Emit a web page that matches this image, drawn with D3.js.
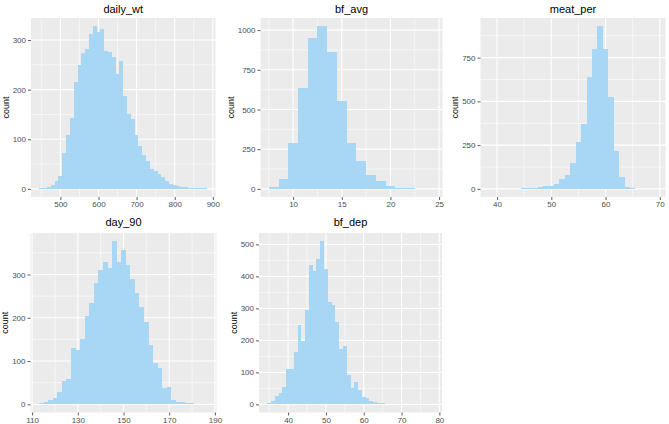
<!DOCTYPE html>
<html><head><meta charset="utf-8">
<script src="https://cdn.jsdelivr.net/npm/d3@7"></script>
<style>
body{margin:0;background:#fff}
svg{display:block}
text{font-family:"Liberation Sans",Arial,Helvetica,sans-serif}
</style>
</head><body>
<svg id="chart" width="669" height="424"></svg>
<script>
// ---------------- DATA ----------------
const variables = ["daily_wt", "bf_avg", "meat_per", "day_90", "bf_dep"];
const binStarts = [445, 7.5, 38.5, 113, 34.5];
const binWidths = [10, 1, 1, 2, 1];

const dailyWtCounts = [1, 2, 4, 8, 15, 26, 72, 109, 142, 216, 250, 273, 282, 313, 328, 316, 323, 278, 276, 265,
  232, 257, 187, 151, 140, 108, 86, 68, 56, 40, 35, 30, 24, 16, 10, 7, 5, 4, 4, 2, 2, 1, 1, 1];
const bfAvgCounts = [10, 63, 288, 636, 951, 1025, 861, 552, 288, 175, 88, 50, 15, 8, 4, 2, 2];
const meatPerCounts = [1, 1, 1, 1, 2, 2, 3, 4, 7, 10, 14, 18, 28, 57, 80, 150, 270, 370, 640, 802, 930, 798,
  527, 219, 70, 13, 3, 2, 1, 1, 1];
const day90Counts = [2, 6, 10, 15, 28, 54, 58, 131, 125, 152, 204, 233, 281, 310, 329, 315, 377, 329, 356, 323,
  289, 258, 225, 190, 137, 95, 83, 37, 41, 10, 6, 5, 3, 2, 1, 1, 1];
const bfDepCounts = [3, 10, 26, 34, 55, 109, 112, 164, 247, 198, 296, 435, 416, 455, 510, 424, 320, 310, 258, 172,
  183, 91, 50, 71, 45, 24, 19, 10, 6, 5, 3, 2, 2, 1, 1, 1, 1, 1, 1, 1, 1, 1, 1, 1];
const allCounts = [dailyWtCounts, bfAvgCounts, meatPerCounts, day90Counts, bfDepCounts];

const xTickValues = [[500, 600, 700, 800, 900], [10, 15, 20, 25], [40, 50, 60, 70], [110, 130, 150, 170, 190], [40, 50, 60, 70, 80]];
const yTickValues = [[0, 100, 200, 300], [0, 250, 500, 750, 1000], [0, 250, 500, 750], [0, 100, 200, 300], [0, 100, 200, 300, 400, 500]];
const yAxisTitle = "count";

// ---------------- LAYOUT ----------------
const panels = [
  {l: 31, r: 215.5, t: 18, b: 197, title: 12.5},
  {l: 260.5, r: 442.5, t: 18, b: 197, title: 12.5},
  {l: 480.5, r: 665.5, t: 18, b: 197, title: 12.5},
  {l: 30.5, r: 216.5, t: 233, b: 412.5, title: 226},
  {l: 259, r: 442, t: 233, b: 412.5, title: 226}
];
const panelBg = "#EBEBEB";
const barFill = "#A7D7F4";
const tickColor = "#333333";
const labelColor = "#4D4D4D";

const svg = d3.select("#chart");

function minors(major, domain) {
  const step = major[1] - major[0];
  const out = [];
  for (let v = major[0] - step / 2; v <= major[major.length - 1] + step / 2 + 1e-9; v += step) {
    if (v > domain[0] && v < domain[1]) out.push(v);
  }
  return out.filter(v => !major.some(m => Math.abs(m - v) < 1e-9));
}

variables.forEach((name, k) => {
  const p = panels[k];
  const counts = allCounts[k];
  const start = binStarts[k], w = binWidths[k];
  const bins = counts.map((c, i) => ({x0: start + i * w, x1: start + (i + 1) * w, c}));
  const lo = start, hi = start + counts.length * w;
  const xpad = (hi - lo) * 0.05;
  const xDomain = [lo - xpad, hi + xpad];
  const yMax = d3.max(counts);
  const yDomain = [-yMax * 0.05, yMax * 1.05];
  const x = d3.scaleLinear().domain(xDomain).range([p.l, p.r]);
  const y = d3.scaleLinear().domain(yDomain).range([p.b, p.t]);

  const g = svg.append("g");
  g.append("rect").attr("x", p.l).attr("y", p.t).attr("width", p.r - p.l).attr("height", p.b - p.t).attr("fill", panelBg);

  // minor grid
  minors(xTickValues[k], xDomain).forEach(v => {
    g.append("line").attr("x1", x(v)).attr("x2", x(v)).attr("y1", p.t).attr("y2", p.b)
      .attr("stroke", "#fff").attr("stroke-width", 0.55);
  });
  minors(yTickValues[k], yDomain).forEach(v => {
    g.append("line").attr("y1", y(v)).attr("y2", y(v)).attr("x1", p.l).attr("x2", p.r)
      .attr("stroke", "#fff").attr("stroke-width", 0.55);
  });
  // major grid
  xTickValues[k].forEach(v => {
    g.append("line").attr("x1", x(v)).attr("x2", x(v)).attr("y1", p.t).attr("y2", p.b)
      .attr("stroke", "#fff").attr("stroke-width", 1.1);
  });
  yTickValues[k].forEach(v => {
    g.append("line").attr("y1", y(v)).attr("y2", y(v)).attr("x1", p.l).attr("x2", p.r)
      .attr("stroke", "#fff").attr("stroke-width", 1.1);
  });

  // bars
  g.selectAll("rect.bar").data(bins).enter().append("rect").attr("class", "bar")
    .attr("x", d => x(d.x0)).attr("width", d => x(d.x1) - x(d.x0))
    .attr("y", d => y(d.c)).attr("height", d => y(0) - y(d.c))
    .attr("fill", barFill).attr("shape-rendering", "crispEdges");

  // x axis
  const xAxis = d3.axisBottom(x).tickValues(xTickValues[k]).tickSize(3).tickPadding(1.5).tickFormat(d3.format("d"));
  const xa = g.append("g").attr("transform", `translate(0,${p.b})`).call(xAxis);
  xa.select(".domain").remove();
  xa.selectAll(".tick line").attr("stroke", tickColor).attr("stroke-width", 0.8);
  xa.selectAll(".tick text").attr("fill", labelColor).attr("font-size", 8)
    .attr("font-family", '"Liberation Sans",Arial,sans-serif');

  // y axis
  const yAxis = d3.axisLeft(y).tickValues(yTickValues[k]).tickSize(3).tickPadding(2).tickFormat(d3.format("d"));
  const ya = g.append("g").attr("transform", `translate(${p.l},0)`).call(yAxis);
  ya.select(".domain").remove();
  ya.selectAll(".tick line").attr("stroke", tickColor).attr("stroke-width", 0.8);
  ya.selectAll(".tick text").attr("fill", labelColor).attr("font-size", 8)
    .attr("font-family", '"Liberation Sans",Arial,sans-serif');

  let maxW = 0;
  ya.selectAll(".tick text").each(function() { maxW = Math.max(maxW, this.getBBox().width); });

  // y title
  const tx = p.l - 5 - maxW - 3.5;
  g.append("text").attr("transform", `translate(${tx},${(p.t + p.b) / 2}) rotate(-90)`)
    .attr("text-anchor", "middle").attr("font-size", 9).attr("fill", "#000").text(yAxisTitle);

  // panel title
  g.append("text").attr("x", (p.l + p.r) / 2).attr("y", p.title)
    .attr("text-anchor", "middle").attr("font-size", 11).attr("fill", "#000").text(name);
});
</script>
</body></html>
